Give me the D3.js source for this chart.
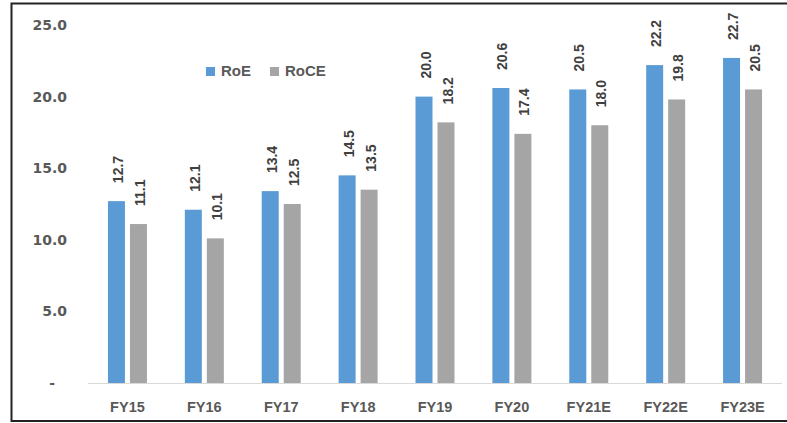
<!DOCTYPE html>
<html>
<head>
<meta charset="utf-8">
<script src="https://cdn.jsdelivr.net/npm/d3@7"></script>
<style>
  body { margin: 0; background: #fff; }
  svg { display: block; }
</style>
</head>
<body>
<script>
let years = ["FY15", "FY16", "FY17", "FY18", "FY19", "FY20", "FY21E", "FY22E", "FY23E"];
let roe = [12.7, 12.1, 13.4, 14.5, 20.0, 20.6, 20.5, 22.2, 22.7];
let roce = [11.1, 10.1, 12.5, 13.5, 18.2, 17.4, 18.0, 19.8, 20.5];
let yTicks = [0, 5, 10, 15, 20, 25];
let seriesNames = ["RoE", "RoCE"];
let colors = ["#5B9BD5", "#A5A5A5"];

let width = 787, height = 423;

let svg = d3.select("body").append("svg")
    .attr("width", width)
    .attr("height", height);

// outer frame (right edge is cut off in the picture)
svg.append("rect")
    .attr("x", 11.5).attr("y", 3.5)
    .attr("width", 800).attr("height", 417.5)
    .attr("fill", "white")
    .attr("stroke", "#222")
    .attr("stroke-width", 2);

let x = d3.scaleBand()
    .domain(years)
    .range([89, 781]);

let y = d3.scaleLinear()
    .domain([0, 25])
    .range([383, 25]);

let barW = 17, gap = 5;

// y axis
let yAxis = svg.append("g")
    .attr("transform", "translate(67,0)")
    .call(d3.axisLeft(y).tickValues(yTicks).tickSize(0)
        .tickFormat(d => d === 0 ? "-" : d3.format(".1f")(d)));
yAxis.select(".domain").remove();
yAxis.selectAll("text")
    .attr("x", d => d === 0 ? -12 : 0)
    .attr("fill", "#595959")
    .style("font-family", "DejaVu Sans")
    .style("font-weight", "bold")
    .style("font-size", "14px");

// baseline
svg.append("line")
    .attr("x1", 88).attr("x2", 782)
    .attr("y1", y(0) + 0.5).attr("y2", y(0) + 0.5)
    .attr("stroke", "#D9D9D9")
    .attr("stroke-width", 1);

// x axis labels
let xAxis = svg.append("g")
    .attr("transform", "translate(0," + (y(0) + 16) + ")")
    .call(d3.axisBottom(x).tickSize(0));
xAxis.select(".domain").remove();
xAxis.selectAll("text")
    .attr("fill", "#595959")
    .style("font-family", "Liberation Sans, Arial, sans-serif")
    .style("font-weight", "bold")
    .style("font-size", "14.5px");

let allSeries = [roe, roce];

allSeries.forEach((vals, s) => {
    let xOff = s === 0 ? -(barW + gap / 2) : gap / 2;
    let g = svg.append("g");
    g.selectAll("rect")
        .data(vals)
        .enter()
        .append("rect")
        .attr("x", (d, i) => x(years[i]) + x.bandwidth() / 2 + xOff)
        .attr("y", d => y(d))
        .attr("width", barW)
        .attr("height", d => y(0) - y(d))
        .attr("fill", colors[s]);

    g.selectAll("text")
        .data(vals)
        .enter()
        .append("text")
        .attr("transform", (d, i) => {
            let cx = x(years[i]) + x.bandwidth() / 2 + xOff + barW / 2 + 6.5;
            return "translate(" + cx + "," + (y(d) - 18) + ") rotate(-90)";
        })
        .attr("fill", "#404040")
        .style("font-family", "Liberation Sans, Arial, sans-serif")
        .style("font-weight", "bold")
        .style("font-size", "14px")
        .text(d => d.toFixed(1));
});

// legend
let legendX = [206, 270];
seriesNames.forEach((name, i) => {
    svg.append("rect")
        .attr("x", legendX[i]).attr("y", 67)
        .attr("width", 9).attr("height", 9)
        .attr("fill", colors[i]);
    svg.append("text")
        .attr("x", legendX[i] + 15).attr("y", 76)
        .attr("fill", "#595959")
        .style("font-family", "Liberation Sans, Arial, sans-serif")
        .style("font-size", "15px")
        .style("font-weight", "600")
        .text(name);
});
</script>
</body>
</html>
